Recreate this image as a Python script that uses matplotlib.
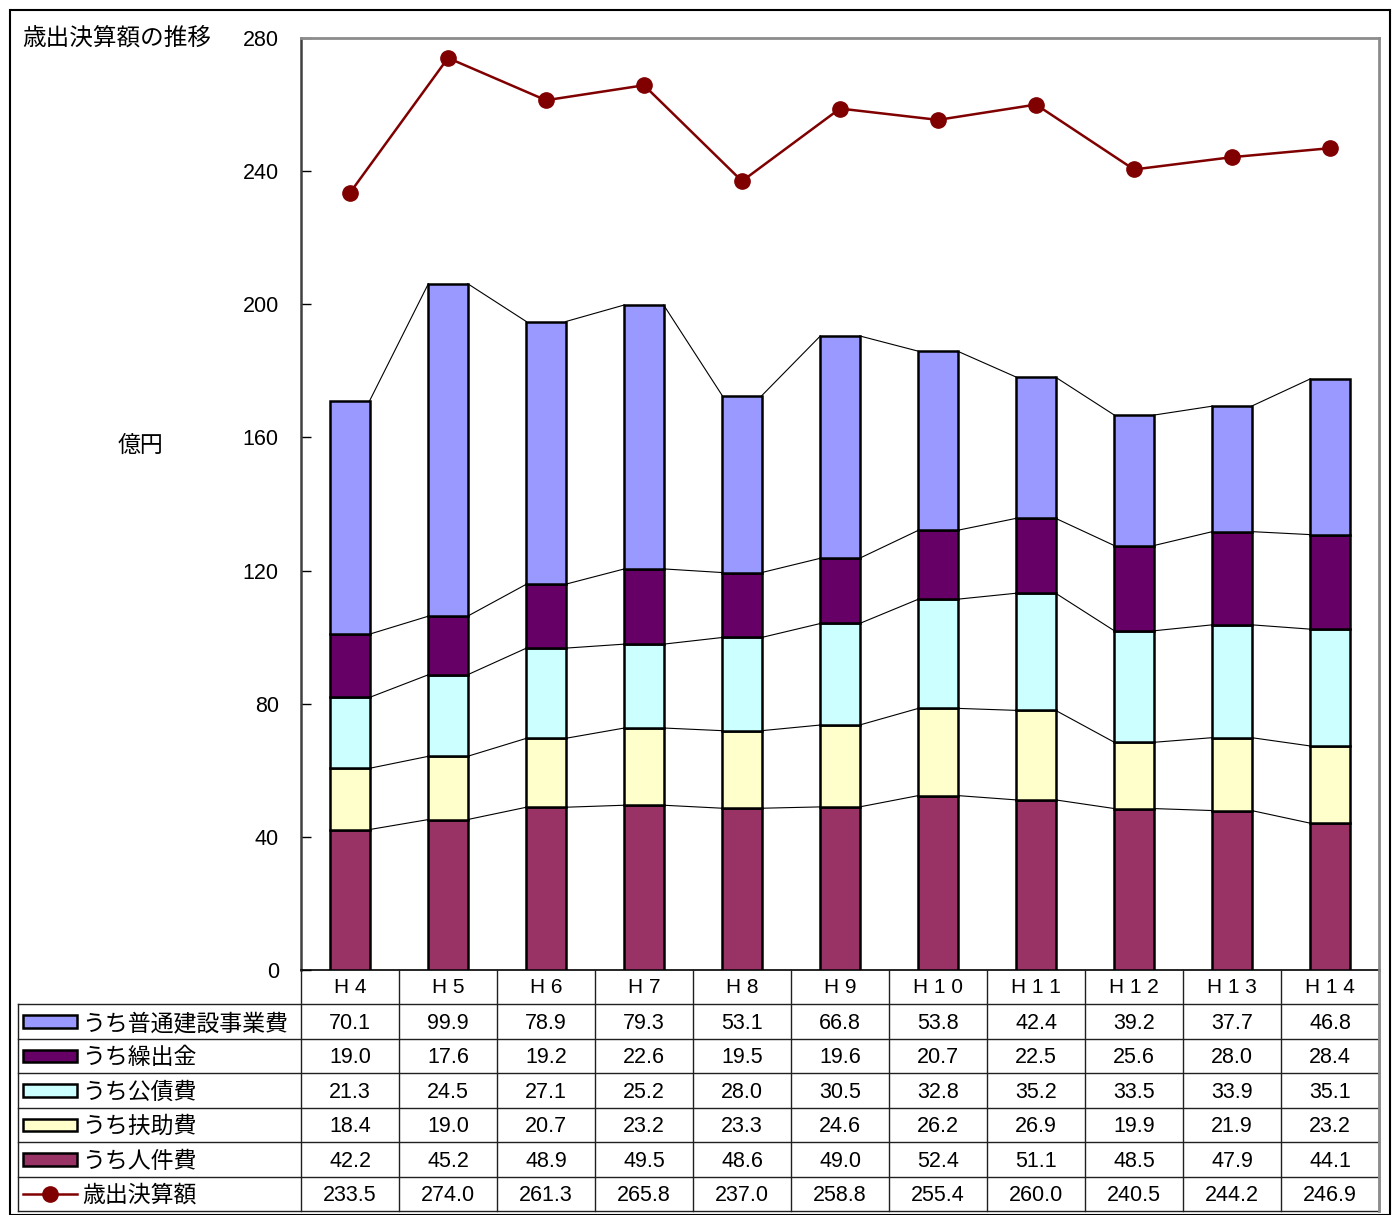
import numpy as np
import matplotlib.pyplot as plt
from matplotlib.patches import Rectangle
from matplotlib.lines import Line2D

plt.rcParams['font.family'] = ['Liberation Sans', 'Noto Sans CJK JP', 'DejaVu Sans']

# 年度と内訳（億円）
years = ["H 4", "H 5", "H 6", "H 7", "H 8", "H 9", "H 1 0", "H 1 1", "H 1 2", "H 1 3", "H 1 4"]
jinkenhi = [42.2, 45.2, 48.9, 49.5, 48.6, 49.0, 52.4, 51.1, 48.5, 47.9, 44.1]
fujohi = [18.4, 19.0, 20.7, 23.2, 23.3, 24.6, 26.2, 26.9, 19.9, 21.9, 23.2]
kosaihi = [21.3, 24.5, 27.1, 25.2, 28.0, 30.5, 32.8, 35.2, 33.5, 33.9, 35.1]
kuridashi = [19.0, 17.6, 19.2, 22.6, 19.5, 19.6, 20.7, 22.5, 25.6, 28.0, 28.4]
futsu_kensetsu = [70.1, 99.9, 78.9, 79.3, 53.1, 66.8, 53.8, 42.4, 39.2, 37.7, 46.8]
total = [233.5, 274.0, 261.3, 265.8, 237.0, 258.8, 255.4, 260.0, 240.5, 244.2, 246.9]

# 積み上げ順（下から）
stack = [
    ("うち人件費", jinkenhi, "#993366"),
    ("うち扶助費", fujohi, "#FFFFCC"),
    ("うち公債費", kosaihi, "#CCFFFF"),
    ("うち繰出金", kuridashi, "#660066"),
    ("うち普通建設事業費", futsu_kensetsu, "#9999FF"),
]
line_label = "歳出決算額"
line_color = "#800000"

W, H = 1393, 1215
fig = plt.figure(figsize=(W / 100, H / 100), dpi=100)


def px_box(x0, y0, x1, y1):
    # pixel box (top-left origin) -> figure fraction rect
    return [x0 / W, 1 - y1 / H, (x1 - x0) / W, (y1 - y0) / H]


# outer frame
fig.patches.append(Rectangle((10 / W, 0), 1380 / W, 1 - 10 / H, transform=fig.transFigure,
                             fill=False, edgecolor="black", linewidth=1.5))

ax_l, ax_r, ax_t, ax_b = 301, 1379, 38, 970
ax = fig.add_axes(px_box(ax_l, ax_t, ax_r, ax_b))
x = np.arange(len(years))
bw = 0.4

bottom = np.zeros(len(years))
levels = []
for name, vals, color in stack:
    vals = np.array(vals)
    ax.bar(x, vals, bw, bottom=bottom, color=color, edgecolor="black", linewidth=1.8, zorder=3)
    bottom = bottom + vals
    levels.append(bottom.copy())

# series lines between neighbouring bars
for lv in levels:
    for i in range(len(years) - 1):
        ax.plot([x[i] + bw / 2, x[i + 1] - bw / 2], [lv[i], lv[i + 1]],
                color="black", linewidth=0.8, zorder=2)

ax.plot(x, total, color=line_color, linewidth=1.8, marker="o", markersize=11,
        zorder=4)

ax.set_xlim(-0.5, len(years) - 0.5)
ax.set_ylim(0, 280)
ax.set_yticks(np.arange(0, 281, 40))
ax.tick_params(axis="y", direction="in", length=7, width=1, pad=16, labelsize=15.5)
ax.tick_params(axis="x", length=0, labelbottom=False)
ax.spines["left"].set_color("#404040")
ax.spines["left"].set_linewidth(1.8)
ax.spines["top"].set_color("#8c8c8c")
ax.spines["top"].set_linewidth(2)
ax.spines["right"].set_color("#8c8c8c")
ax.spines["right"].set_linewidth(2)
ax.spines["bottom"].set_color("black")
ax.spines["bottom"].set_linewidth(1.2)

fig.text(22 / W, 1 - 38 / H, "歳出決算額の推移", fontsize=17, va="center", ha="left")
fig.text(118 / W, 1 - 445 / H, "億円", fontsize=16.5, va="center", ha="left")

# data table below the axes
tab_l, tab_r, tab_t, tab_b = 18, 1379, 970, 1211
tax = fig.add_axes(px_box(tab_l, tab_t, tab_r, tab_b))
col_w = (ax_r - ax_l) / len(years)
left_units = (ax_l - tab_l) / col_w
tax.set_xlim(-0.5 - left_units, len(years) - 0.5)
nrows = len(stack) + 2
tax.set_ylim(nrows, 0)
tax.axis("off")

grid_kw = dict(color="#202020", linewidth=1.0, clip_on=False)
x_left = -0.5 - left_units
x_right = len(years) - 0.5
# horizontal lines
for r in range(1, nrows + 1):
    tax.add_line(Line2D([x_left, x_right], [r, r], **grid_kw))
# vertical lines
for c in range(len(years) + 1):
    tax.add_line(Line2D([c - 0.5, c - 0.5], [0, nrows], **grid_kw))
tax.add_line(Line2D([x_left, x_left], [1, nrows], **grid_kw))
tax.add_line(Line2D([x_right, x_right], [0, nrows], color="#8c8c8c", linewidth=2, clip_on=False))

for i, yr in enumerate(years):
    tax.text(i, 0.5, yr, ha="center", va="center", fontsize=15,
             family=["Liberation Sans Narrow", "Liberation Sans"])

rows = [(n, v, c) for n, v, c in reversed(stack)]
sw_x0 = x_left + (23 - tab_l) / col_w
sw_x1 = x_left + (77 - tab_l) / col_w
lab_x = x_left + (82 - tab_l) / col_w
for r, (name, vals, color) in enumerate(rows, start=1):
    tax.add_patch(Rectangle((sw_x0, r + 0.5 - 0.18), sw_x1 - sw_x0, 0.36,
                            facecolor=color, edgecolor="black", linewidth=1.8))
    tax.text(lab_x, r + 0.55, name, ha="left", va="center", fontsize=16.5)
    for i, v in enumerate(vals):
        tax.text(i, r + 0.55, f"{v:.1f}", ha="center", va="center", fontsize=15.5)

r = nrows - 1
tax.plot([sw_x0, sw_x1], [r + 0.5, r + 0.5], color=line_color, linewidth=1.8,
         clip_on=False)
tax.plot([(sw_x0 + sw_x1) / 2], [r + 0.5], marker="o", markersize=11,
         color=line_color, clip_on=False)
tax.text(lab_x, r + 0.55, line_label, ha="left", va="center", fontsize=16.5)
for i, v in enumerate(total):
    tax.text(i, r + 0.55, f"{v:.1f}", ha="center", va="center", fontsize=15.5)

fig.savefig("out.png", dpi=100)
